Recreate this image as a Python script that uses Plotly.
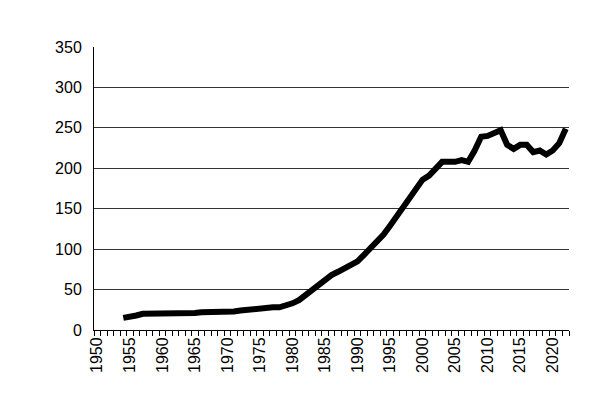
import plotly.graph_objects as go

years = list(range(1954, 2023))
values = [15, 16, 18, 20, 20, 21, 21, 21, 20, 20, 21, 21, 22, 22, 22, 23, 23, 23, 24, 25,
          26, 26, 27, 28, 28, 30, 33, 37, 43, 49, 57, 63, 68, 72, 76, 80, 85, 93, 101, 109,
          118, 129, 141, 153, 164, 176, 186, 191, 200, 208, 208, 208, 210, 208, 222, 239, 240, 243, 247, 229,
          224, 229, 229, 220, 222, 217, 222, 231, 249]
tick_years = list(range(1950, 2021, 5))

fig = go.Figure()
fig.add_trace(go.Scatter(x=years, y=values, mode="lines",
                         line=dict(color="black", width=6), showlegend=False))

fig.update_layout(
    width=593, height=420,
    margin=dict(l=86, r=32, t=39, b=98, autoexpand=False),
    plot_bgcolor="white", paper_bgcolor="white",
    font=dict(family="Liberation Sans, Arial", size=16, color="black"),
)
fig.update_xaxes(
    range=[1949.5, 2022.5], tickvals=tick_years, ticktext=[str(y) for y in tick_years],
    tickangle=-90, ticks="", showgrid=False, zeroline=False,
    showline=True, linecolor="black", linewidth=1,
    minor=dict(ticks="outside", tick0=1949.5, dtick=1, ticklen=5, tickcolor="black", showgrid=False),
)
fig.update_yaxes(
    range=[0, 350], dtick=50, showgrid=True, gridcolor="#333333", gridwidth=1,
    zeroline=False, showline=True, linecolor="black", linewidth=1,
    ticks="", ticklabelstandoff=8,
)
fig.write_html("out.html")
